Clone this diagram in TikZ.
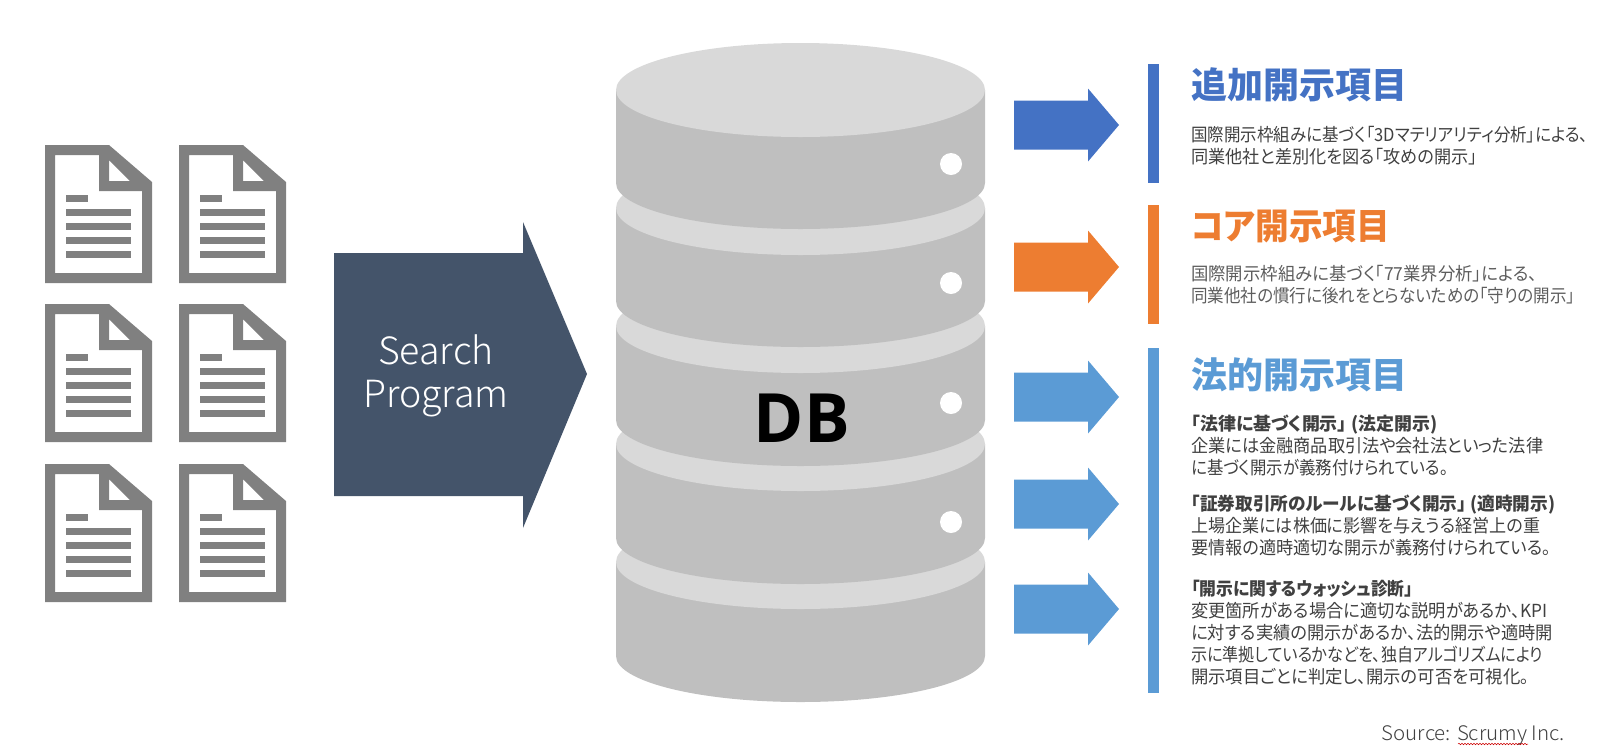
\documentclass[tikz,border=0pt]{standalone}
\usepackage{xcolor}
\usepackage{graphicx}
\usepackage{fontspec}
\setmainfont[RawFeature={+palt}]{Noto Sans CJK JP}
\newfontfamily\latinfont{Open Sans}
\newfontfamily\lightfont{Noto Sans CJK JP Light}
\usepackage{tikz}
\usetikzlibrary{calc,positioning,decorations.pathmorphing}
\definecolor{addc}{HTML}{4472C4}
\definecolor{corec}{HTML}{ED7D31}
\definecolor{legalc}{HTML}{5B9BD5}
\definecolor{slatec}{HTML}{44546A}
\definecolor{docc}{HTML}{808080}
\definecolor{dbside}{HTML}{BFBFBF}
\definecolor{dbtop}{HTML}{D9D9D9}
\definecolor{bodyc}{HTML}{404040}
\newcommand{\fitln}[2]{\resizebox{#1pt}{\height}{#2}}
\tikzset{
  hd/.style={anchor=west,inner sep=0pt,font=\fontsize{36}{36}\selectfont\bfseries},
  txt/.style={anchor=north west,inner sep=0pt,align=left,text=bodyc,font=\fontsize{18}{22}\selectfont},
  docicon/.pic={
    \fill[docc,even odd rule] (0,0)--(64,0)--(107,37)--(107,138)--(0,138)--cycle
      (10,10)--(54,10)--(54,46)--(97,46)--(97,128)--(10,128)--cycle
      (64,15)--(64,36)--(85,36)--cycle;
    \fill[docc] (21,50) rectangle (43,57);
    \foreach \ly in {64,78,92,106} \fill[docc] (21,\ly) rectangle (86,\ly+7);
  }
}

\begin{document}
\begin{tikzpicture}[x=1pt,y=-1pt]
\useasboundingbox (0,0) rectangle (1617,748);
\foreach \dx in {45,179} \foreach \dy in {145,304,464} \pic at (\dx,\dy) {docicon};
\fill[slatec] (334,253)--(523,253)--(523,222)--(587,374)--(523,528)--(523,496)--(334,496)--cycle;
\node[text=white,align=center,inner sep=0pt,font=\fontsize{37.5}{43}\selectfont\lightfont] (searchlbl) at (436,376) {Search\\Program};
\foreach \topy/\boty in {562/656,444/538,326/420,208/301,90/183} {
  \fill[dbside] (616,\topy)--(616,\boty) arc[start angle=180,end angle=360,x radius=184.5,y radius=-46]--(985,\topy)--cycle;
  \fill[dbtop] (800.5,\topy) ellipse[x radius=184.5,y radius=47];
}
\foreach \hy in {164,283,403,522} \fill[white] (951,\hy) circle (11);
\node[inner sep=0pt,font=\fontsize{68}{68}\selectfont\latinfont\bfseries] (dblbl) at (802,418) {DB};
\foreach \ay/\ac in {125/addc,267/corec,397/legalc,504/legalc,609/legalc}
  \fill[\ac] (1014,\ay-24.5)--(1088,\ay-24.5)--(1088,\ay-36.5)--(1119,\ay)--(1088,\ay+36.5)--(1088,\ay+24.5)--(1014,\ay+24.5)--cycle;
\fill[addc] (1148,64) rectangle (1159,183);
\fill[corec] (1148,205) rectangle (1159,324);
\fill[legalc] (1148,348) rectangle (1159,693);
\node[hd,text=addc] (addhd) at (1191,85) {\fitln{216}{追加開示項目}};
\node[hd,text=corec] (corehd) at (1191,226) {\fitln{199}{コア開示項目}};
\node[hd,text=legalc] (legalhd) at (1191,375) {\fitln{216}{法的開示項目}};
\node[txt] (addtxt) at (1191,126) {\fitln{397}{国際開示枠組みに基づく「3Dマテリアリティ分析」による、}\\\fitln{286}{同業他社と差別化を図る「攻めの開示」}};
\node[txt,text=bodyc!85] (coretxt) at (1191,265) {\fitln{346}{国際開示枠組みに基づく「77業界分析」による、}\\\fitln{384}{同業他社の慣行に後れをとらないための「守りの開示」}};
\node[txt] (lawtxt) at (1191,415) {\textbf{\fitln{246}{「法律に基づく開示」 (法定開示)}}\\\fitln{352}{企業には金融商品取引法や会社法といった法律}\\\fitln{257}{に基づく開示が義務付けられている。}};
\node[txt] (tsetxt) at (1191,495) {\textbf{\fitln{364}{「証券取引所のルールに基づく開示」 (適時開示)}}\\\fitln{349}{上場企業には株価に影響を与えうる経営上の重}\\\fitln{360}{要情報の適時適切な開示が義務付けられている。}};
\node[txt] (washtxt) at (1191,580) {\textbf{\fitln{222}{「開示に関するウォッシュ診断」}}\\\fitln{356}{変更箇所がある場合に適切な説明があるか、KPI}\\\fitln{362}{に対する実績の開示があるか、法的開示や適時開}\\\fitln{352}{示に準拠しているかなどを、独自アルゴリズムにより}\\\fitln{338}{開示項目ごとに判定し、開示の可否を可視化。}};
\node[anchor=east,inner sep=0pt,text=bodyc,font=\fontsize{20}{20}\selectfont\lightfont] (srclbl) at (1565,735) {\fitln{183}{Source: Scrumy Inc.}};
\draw[red!80!black,line width=.5pt,decorate,decoration={snake,amplitude=.7pt,segment length=3pt}] (1458,744)--(1528,744);
\end{tikzpicture}
\end{document}
